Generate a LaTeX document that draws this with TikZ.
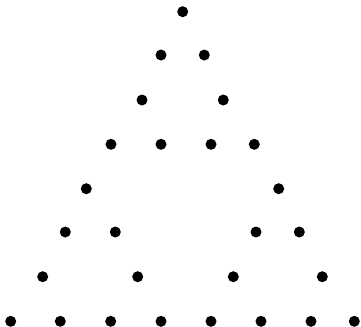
\documentclass[tikz,border=0pt]{standalone}
\usepackage{tikz}

\begin{document}
\begin{tikzpicture}[
x=0.02cm, y=-0.02cm,
dot/.style={circle, fill=black, inner sep=0pt, minimum size=0.22cm}
]
\useasboundingbox (0,0) rectangle (361,326);

% Row 0
\node[dot] (r0a) at (182.7,11.7) {};

% Row 1
\node[dot] (r1a) at (161,55) {};
\node[dot] (r1b) at (204.3,55) {};

% Row 2
\node[dot] (r2a) at (142,100) {};
\node[dot] (r2b) at (223.3,100) {};

% Row 3
\node[dot] (r3a) at (111,144.3) {};
\node[dot] (r3b) at (161,144.3) {};
\node[dot] (r3c) at (211,144.3) {};
\node[dot] (r3d) at (254.3,144.3) {};

% Row 4
\node[dot] (r4a) at (86.3,188.7) {};
\node[dot] (r4b) at (278.7,188.7) {};

% Row 5
\node[dot] (r5a) at (65.3,232) {};
\node[dot] (r5b) at (115.3,232) {};
\node[dot] (r5c) at (256,232) {};
\node[dot] (r5d) at (299.3,232) {};

% Row 6
\node[dot] (r6a) at (42.7,276.7) {};
\node[dot] (r6b) at (137.7,276.7) {};
\node[dot] (r6c) at (233.3,276.7) {};
\node[dot] (r6d) at (322.3,276.7) {};

% Row 7 - bottom
\node[dot] (r7a) at (10.7,321.3) {};
\node[dot] (r7b) at (60.3,321.3) {};
\node[dot] (r7c) at (110.7,321.3) {};
\node[dot] (r7d) at (161,321.3) {};
\node[dot] (r7e) at (211,321.3) {};
\node[dot] (r7f) at (261,321.3) {};
\node[dot] (r7g) at (311,321.3) {};
\node[dot] (r7h) at (354.3,321.3) {};

\end{tikzpicture}
\end{document}
